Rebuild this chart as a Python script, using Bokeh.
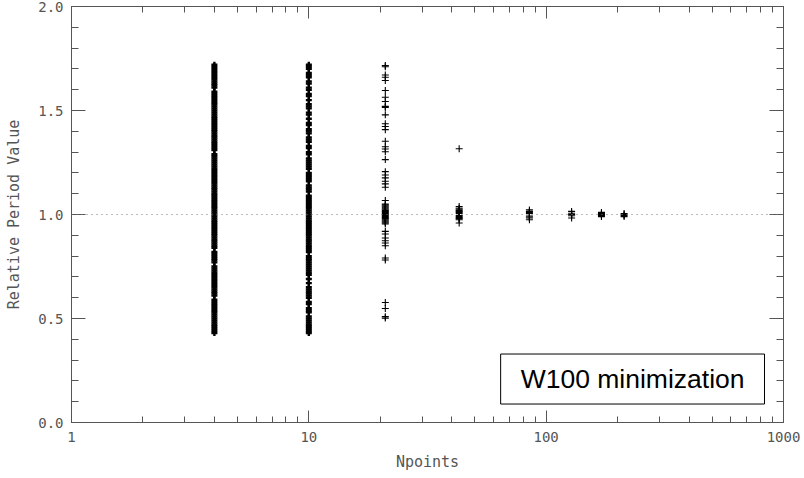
from bokeh.plotting import figure
from bokeh.models import (ColumnDataSource, Range1d, FixedTicker, NumeralTickFormatter,
                          LinearAxis, LogAxis, Span, Label)
from bokeh.embed import file_html
from bokeh.resources import INLINE

# Number of points used per fit
npoints = [4, 10, 21, 43, 85, 128, 171, 213]

# Relative period values recovered for each Npoints setting
rel_n4 = [
    0.43, 0.44, 0.45, 0.46, 0.47, 0.48, 0.49, 0.50, 0.51, 0.52, 0.53, 0.54, 0.55, 0.56,
    0.57, 0.58, 0.59, 0.61, 0.62, 0.63, 0.64, 0.65, 0.66, 0.67, 0.68, 0.69, 0.70, 0.71,
    0.72, 0.73, 0.74, 0.75, 0.77, 0.78, 0.79, 0.80, 0.81, 0.82, 0.84, 0.85, 0.86, 0.87,
    0.88, 0.89, 0.90, 0.91, 0.92, 0.93, 0.94, 0.95, 0.96, 0.97, 0.98, 0.99, 1.00, 1.01,
    1.02, 1.03, 1.04, 1.05, 1.06, 1.07, 1.08, 1.09, 1.10, 1.11, 1.12, 1.13, 1.14, 1.15,
    1.16, 1.17, 1.18, 1.19, 1.20, 1.21, 1.22, 1.23, 1.24, 1.25, 1.26, 1.27, 1.28, 1.29,
    1.31, 1.32, 1.33, 1.34, 1.35, 1.36, 1.37, 1.38, 1.39, 1.40, 1.41, 1.42, 1.43, 1.44,
    1.45, 1.46, 1.47, 1.48, 1.49, 1.50, 1.51, 1.52, 1.53, 1.54, 1.55, 1.56, 1.57, 1.58,
    1.59, 1.61, 1.62, 1.63, 1.64, 1.65, 1.66, 1.67, 1.68, 1.69, 1.70, 1.71, 1.72,
]
rel_n10 = [
    0.43, 0.44, 0.45, 0.46, 0.47, 0.48, 0.49, 0.50, 0.51, 0.53, 0.54, 0.55, 0.57, 0.58,
    0.60, 0.61, 0.62, 0.63, 0.64, 0.65, 0.67, 0.69, 0.71, 0.72, 0.73, 0.74, 0.75, 0.76,
    0.77, 0.78, 0.79, 0.80, 0.82, 0.83, 0.84, 0.85, 0.86, 0.87, 0.88, 0.89, 0.90, 0.91,
    0.92, 0.93, 0.94, 0.95, 0.96, 0.97, 0.98, 0.99, 1.00, 1.01, 1.02, 1.03, 1.04, 1.05,
    1.06, 1.07, 1.08, 1.09, 1.11, 1.12, 1.13, 1.14, 1.16, 1.17, 1.18, 1.19, 1.20, 1.22,
    1.23, 1.24, 1.25, 1.26, 1.27, 1.29, 1.30, 1.32, 1.33, 1.35, 1.36, 1.37, 1.39, 1.40,
    1.41, 1.43, 1.44, 1.46, 1.48, 1.49, 1.51, 1.52, 1.53, 1.55, 1.57, 1.58, 1.60, 1.61,
    1.63, 1.64, 1.66, 1.67, 1.68, 1.70, 1.71, 1.72,
]
rel_n21 = [
    1.716, 1.710, 1.671, 1.660, 1.644, 1.596, 1.564, 1.543, 1.520, 1.515, 1.479, 1.436,
    1.423, 1.408, 1.352, 1.326, 1.315, 1.302, 1.264, 1.206, 1.190, 1.176, 1.160, 1.147,
    1.131, 1.067, 1.050, 1.045, 1.040, 1.035, 1.030, 1.025, 1.020, 1.015, 1.010, 1.005,
    1.000, 0.995, 0.990, 0.985, 0.980, 0.975, 0.970, 0.965, 0.960, 0.955, 0.919, 0.906,
    0.887, 0.874, 0.863, 0.850, 0.791, 0.781, 0.577, 0.548, 0.509, 0.502,
]
rel_n43 = [1.316, 1.038, 1.030, 1.025, 1.020, 1.015, 1.010, 1.005, 0.995, 0.990, 0.985,
           0.980, 0.975, 0.959]
rel_n85 = [1.022, 1.015, 1.010, 1.005, 0.993, 0.988, 0.983, 0.975]
rel_n128 = [1.015, 1.006, 1.000, 0.994, 0.983]
rel_n171 = [1.010, 1.005, 1.000, 0.995, 0.990]
rel_n213 = [1.005, 1.000, 0.995, 0.990]

dense_sets = [rel_n4, rel_n10]
sparse_sets = [rel_n21, rel_n43, rel_n85, rel_n128, rel_n171, rel_n213]

dense = ColumnDataSource(data=dict(
    x=[n for n, vals in zip(npoints[:2], dense_sets) for _ in vals],
    y=[v for vals in dense_sets for v in vals],
))
sparse = ColumnDataSource(data=dict(
    x=[n for n, vals in zip(npoints[2:], sparse_sets) for _ in vals],
    y=[v for vals in sparse_sets for v in vals],
))

x_major = [1, 10, 100, 1000]
x_minor = [m * d for d in (1, 10, 100) for m in range(2, 10)]
y_major = [0.0, 0.5, 1.0, 1.5, 2.0]
y_minor = [i / 10 for i in range(1, 20)]

AX = "#555555"
FONT = "DejaVu Sans Mono"

p = figure(width=804, height=478, x_axis_type="log",
           x_range=Range1d(1, 1000), y_range=Range1d(0, 2),
           output_backend="svg", toolbar_location=None,
           min_border_left=71, min_border_right=21,
           min_border_top=6, min_border_bottom=56)
p.background_fill_color = "white"
p.border_fill_color = "white"
p.outline_line_color = AX
p.xgrid.grid_line_color = None
p.ygrid.grid_line_color = None


def style_axis(ax, major_len, minor_len, labels=True):
    ax.axis_line_color = AX
    ax.major_tick_line_color = AX
    ax.minor_tick_line_color = AX
    ax.major_tick_in = major_len
    ax.major_tick_out = 0
    ax.minor_tick_in = minor_len
    ax.minor_tick_out = 0
    if labels:
        ax.major_label_text_font = FONT
        ax.major_label_text_font_size = "14px"
        ax.major_label_text_color = AX
        ax.axis_label_text_font = FONT
        ax.axis_label_text_font_size = "15px"
        ax.axis_label_text_font_style = "normal"
        ax.axis_label_text_color = AX
    else:
        ax.major_label_text_font_size = "1px"
        ax.major_label_text_color = None
        ax.major_label_standoff = 0


xb = p.xaxis[0]
xb.ticker = FixedTicker(ticks=x_major, minor_ticks=x_minor)
xb.formatter = NumeralTickFormatter(format="0")
xb.axis_label = "Npoints"
style_axis(xb, 12, 6)
xb.major_label_standoff = 9
xb.axis_label_standoff = 8

yl = p.yaxis[0]
yl.ticker = FixedTicker(ticks=y_major, minor_ticks=y_minor)
yl.formatter = NumeralTickFormatter(format="0.0")
yl.axis_label = "Relative Period Value"
style_axis(yl, 14, 7)
yl.major_label_standoff = 8
yl.axis_label_standoff = 12

xt = LogAxis(ticker=FixedTicker(ticks=x_major, minor_ticks=x_minor))
style_axis(xt, 12, 6, labels=False)
p.add_layout(xt, "above")

yr = LinearAxis(ticker=FixedTicker(ticks=y_major, minor_ticks=y_minor))
style_axis(yr, 14, 7, labels=False)
p.add_layout(yr, "right")

# Reference level: the true period
p.add_layout(Span(location=1.0, dimension="width", line_color="#777777",
                  line_dash="1 4", line_width=1))

p.scatter(x="x", y="y", source=dense, marker="cross", size=6,
          line_color="black", line_width=2.4)
p.scatter(x="x", y="y", source=sparse, marker="cross", size=7,
          line_color="black", line_width=1.1)

p.add_layout(Label(x=64.3, y=0.209, text="W100 minimization",
                   text_font="Liberation Sans", text_font_size="26.5px",
                   text_color="black", text_align="left", text_baseline="middle",
                   border_line_color="black", border_line_width=1,
                   background_fill_color="white",
                   padding=(20, 10)))

open("out.html", "w").write(file_html(p, INLINE))
